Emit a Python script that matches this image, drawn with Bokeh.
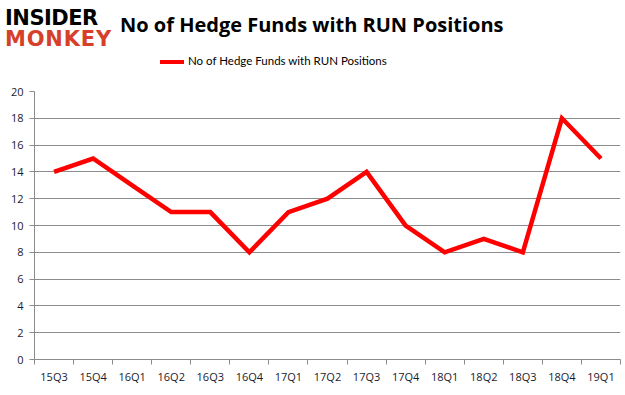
from bokeh.plotting import figure
from bokeh.models import FixedTicker, Range1d, Div
from bokeh.layouts import column
from bokeh.embed import file_html
from bokeh.resources import INLINE

quarters = ["15Q3", "15Q4", "16Q1", "16Q2", "16Q3", "16Q4", "17Q1", "17Q2",
            "17Q3", "17Q4", "18Q1", "18Q2", "18Q3", "18Q4", "19Q1"]
funds = [14, 15, 13, 11, 11, 8, 11, 12, 14, 10, 8, 9, 8, 18, 15]
y_ticks = list(range(0, 21, 2))
series_name = "No of Hedge Funds with RUN Positions"
title_text = "No of Hedge Funds with RUN Positions"
logo_top, logo_bottom = "INSIDER", "MONKEY"

W = 625
HEADER_H = 80
FIG_H = 315

header = Div(width=W, height=HEADER_H, margin=0, text=f"""
<div style="position:relative;width:{W}px;height:{HEADER_H}px;background:white;">
  <div style="position:absolute;left:5px;top:8px;font-family:'DejaVu Sans';font-weight:bold;
       font-size:21px;line-height:20px;color:#000;letter-spacing:-0.5px;">{logo_top}</div>
  <div style="position:absolute;left:5px;top:29px;font-family:'DejaVu Sans';font-weight:bold;
       font-size:21px;line-height:20px;color:#d6402a;letter-spacing:0.8px;">{logo_bottom}</div>
  <div style="position:absolute;left:120px;top:11px;font-family:'Open Sans';font-weight:bold;
       font-size:20px;line-height:28px;color:#000;white-space:nowrap;">{title_text}</div>
  <div style="position:absolute;left:160px;top:53px;font-family:'Lato';font-size:11.5px;
       line-height:16px;color:#000;white-space:nowrap;">
    <span style="display:inline-block;width:24px;height:4px;background:#ff0000;
          vertical-align:middle;margin-right:4px;"></span>{series_name}</div>
</div>
""")

p = figure(width=W, height=FIG_H, output_backend="svg", toolbar_location=None,
           x_range=Range1d(0, len(quarters)), y_range=Range1d(0, 20),
           min_border_left=34, min_border_right=5, min_border_top=11,
           min_border_bottom=36, margin=0)
p.outline_line_color = None
p.background_fill_color = "white"
p.border_fill_color = "white"

xs = [i + 0.5 for i in range(len(quarters))]
p.line(xs, funds, line_color="#ff0000", line_width=4.5, line_join="miter")

# x axis: labels at category centres, tick marks at category boundaries
p.xaxis.ticker = FixedTicker(ticks=xs, minor_ticks=list(range(len(quarters) + 1)))
p.xaxis.major_label_overrides = {x: q for x, q in zip(xs, quarters)}
p.xaxis.major_tick_out = 0
p.xaxis.major_tick_in = 0
p.xaxis.minor_tick_out = 5
p.xaxis.minor_tick_in = 0
p.xaxis.minor_tick_line_color = "#8c8c8c"
p.xaxis.axis_line_color = "#8c8c8c"
p.xaxis.major_label_text_font = "Open Sans"
p.xaxis.major_label_text_font_size = "11px"
p.xaxis.major_label_text_color = "#1a1a2e"
p.xaxis.major_label_standoff = 4
p.xgrid.visible = False

# y axis
p.yaxis.ticker = FixedTicker(ticks=y_ticks)
p.yaxis.major_tick_out = 5
p.yaxis.major_tick_in = 0
p.yaxis.minor_tick_line_color = None
p.yaxis.major_tick_line_color = "#8c8c8c"
p.yaxis.axis_line_color = "#8c8c8c"
p.yaxis.major_label_text_font = "Open Sans"
p.yaxis.major_label_text_font_size = "11px"
p.yaxis.major_label_text_color = "#1a1a2e"
p.yaxis.major_label_standoff = 6
p.ygrid.ticker = FixedTicker(ticks=y_ticks)
p.ygrid.grid_line_color = "#8c8c8c"
p.ygrid.grid_line_width = 1

layout = column(header, p, spacing=0, margin=0)
open("out.html", "w").write(file_html(layout, INLINE))
